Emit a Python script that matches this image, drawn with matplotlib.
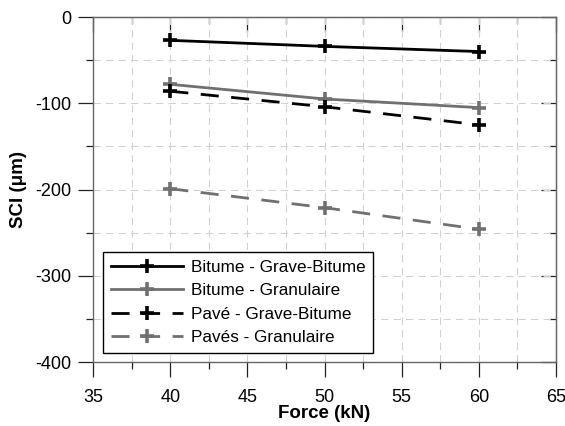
import matplotlib
matplotlib.use("Agg")
import matplotlib.pyplot as plt
import numpy as np

plt.rcParams['font.family'] = ['Liberation Sans', 'DejaVu Sans']
plt.rcParams['axes.unicode_minus'] = False

force = [40, 50, 60]
bitume_grave = [-27, -34, -40]
bitume_gran = [-78, -95, -105]
pave_grave = [-86, -104, -125]
paves_gran = [-199, -221, -246]

series = [
    ("Bitume - Grave-Bitume", bitume_grave, "black", "-"),
    ("Bitume - Granulaire", bitume_gran, "#707070", "-"),
    ("Pavé - Grave-Bitume", pave_grave, "black", (0, (6.5, 4.5))),
    ("Pavés - Granulaire", paves_gran, "#707070", (0, (6.5, 4.5))),
]

fig = plt.figure(figsize=(5.65, 4.26), dpi=100)
ax = fig.add_axes([0.165, 0.150, 0.819, 0.810])

for name, vals, col, ls in series:
    ax.plot(force, vals, color=col, linestyle=ls, linewidth=2.0,
            marker='+', markersize=9.5, markeredgewidth=2.6, label=name)

xmaj = np.arange(35, 66, 5)
xmin = np.arange(37.5, 65, 5)
ymaj = np.arange(-400, 1, 100)
ymin = np.arange(-350, 0, 100)

ax.set_xlim(35, 65)
ax.set_ylim(-400, 0)
ax.set_xticks(xmaj)
ax.set_xticks(xmin, minor=True)
ax.set_yticks(ymaj)
ax.set_yticks(ymin, minor=True)
ax.grid(True, which='both', color='#d0d0d0', linestyle=(0, (7, 5)), linewidth=0.75)
ax.set_axisbelow(True)
ax.tick_params(which='major', direction='out', length=11, width=0.9,
               labelsize=13, color='#222222', pad=5)
ax.tick_params(axis='x', which='major', pad=8.5)
ax.tick_params(which='minor', direction='out', length=5, width=0.9, color='#222222')
for s in ax.spines.values():
    s.set_color('#666666')
    s.set_linewidth(1.0)

# inward ticks on the top and right sides
top = ax.secondary_xaxis('top')
top.set_xticks(xmaj)
top.set_xticks(xmin, minor=True)
right = ax.secondary_yaxis('right')
right.set_yticks(ymaj)
right.set_yticks(ymin, minor=True)
for sec in (top, right):
    sec.tick_params(which='major', direction='in', length=11, width=0.9, color='#222222',
                    labeltop=False, labelright=False, labelbottom=False, labelleft=False)
    sec.tick_params(which='minor', direction='in', length=5, width=0.9, color='#222222')
    for s in sec.spines.values():
        s.set_color('#666666')
top.set_xticklabels([])
right.set_yticklabels([])

ax.set_xlabel("Force (kN)", fontsize=13.5, fontweight='bold', labelpad=-1)
ax.set_ylabel("SCI (μm)", fontsize=13.5, fontweight='bold', labelpad=6)

leg = ax.legend(loc='lower left', bbox_to_anchor=(0.022, 0.026), fontsize=12.3,
                handlelength=4.2, fancybox=False, framealpha=1,
                edgecolor='black', borderpad=0.45, labelspacing=0.5,
                handletextpad=0.45, borderaxespad=0)
leg.get_frame().set_linewidth(1.0)

fig.savefig("out.png", dpi=100)
